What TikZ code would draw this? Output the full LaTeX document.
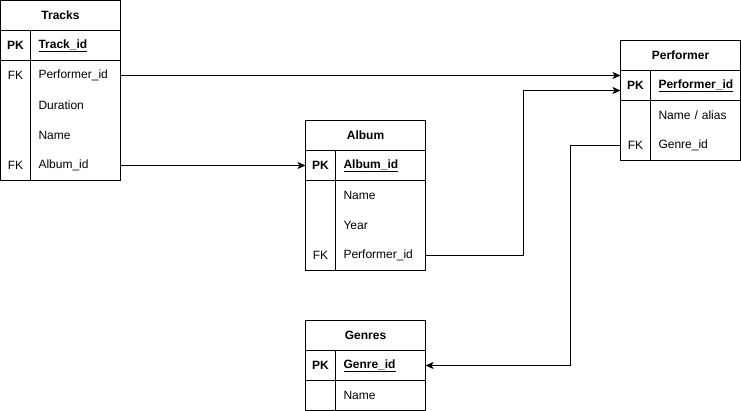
\documentclass[tikz,border=0pt]{standalone}
\usepackage{fontspec}
\setmainfont{Liberation Sans}
\usetikzlibrary{positioning,arrows.meta,calc}

\begin{document}
\begin{tikzpicture}[
    x=1pt, y=-1pt,
    node distance=0pt,
    every node/.style={font=\fontsize{12}{14}\selectfont, inner sep=0pt, outer sep=0pt},
    tblhead/.style={rectangle, draw, line width=1pt, minimum width=120pt, minimum height=30pt, font=\fontsize{12}{14}\selectfont\bfseries},
    keycell/.style={rectangle, minimum width=30pt, minimum height=30pt},
    pkkey/.style={keycell, font=\fontsize{12}{14}\selectfont\bfseries},
    fieldcell/.style={rectangle, minimum width=90pt, minimum height=30pt, inner xsep=8pt, text width=74pt, align=left},
    pkfield/.style={fieldcell, font=\fontsize{12}{14}\selectfont\bfseries},
    tblline/.style={line width=1pt},
    fk/.style={-{Stealth[length=8pt,width=7pt,inset=2pt]}, line width=1pt}
]
\useasboundingbox (0,0) rectangle (741,411);

% Tracks
\node[tblhead, anchor=north west] (trkhead) at (0.5,0.5) {Tracks};
\node[pkkey, below right=of trkhead.south west] (trkpkk) {PK};
\node[pkfield, right=of trkpkk] (trkpkf) {\underline{Track\_id}};
\node[keycell, below=of trkpkk] (trkk1) {FK};
\node[fieldcell, right=of trkk1] (trkf1) {Performer\_id};
\node[keycell, below=of trkk1] (trkk2) {};
\node[fieldcell, right=of trkk2] (trkf2) {Duration};
\node[keycell, below=of trkk2] (trkk3) {};
\node[fieldcell, right=of trkk3] (trkf3) {Name};
\node[keycell, below=of trkk3] (trkk4) {FK};
\node[fieldcell, right=of trkk4] (trkf4) {Album\_id};
\draw[tblline] (trkpkk.north west) rectangle (trkpkf.south east);
\draw[tblline] (trkk1.north west) rectangle (trkf4.south east);
\draw[tblline] (trkpkk.north east) -- (trkk4.south east);

% Album
\node[tblhead, anchor=north west] (albhead) at (305.5,120.5) {Album};
\node[pkkey, below right=of albhead.south west] (albpkk) {PK};
\node[pkfield, right=of albpkk] (albpkf) {\underline{Album\_id}};
\node[keycell, below=of albpkk] (albk1) {};
\node[fieldcell, right=of albk1] (albf1) {Name};
\node[keycell, below=of albk1] (albk2) {};
\node[fieldcell, right=of albk2] (albf2) {Year};
\node[keycell, below=of albk2] (albk3) {FK};
\node[fieldcell, right=of albk3] (albf3) {Performer\_id};
\draw[tblline] (albpkk.north west) rectangle (albpkf.south east);
\draw[tblline] (albk1.north west) rectangle (albf3.south east);
\draw[tblline] (albpkk.north east) -- (albk3.south east);

% Performer
\node[tblhead, anchor=north west] (perfhead) at (620.5,40.5) {Performer};
\node[pkkey, below right=of perfhead.south west] (perfpkk) {PK};
\node[pkfield, right=of perfpkk] (perfpkf) {\underline{Performer\_id}};
\node[keycell, below=of perfpkk] (perfk1) {};
\node[fieldcell, right=of perfk1] (perff1) {Name / alias};
\node[keycell, below=of perfk1] (perfk2) {FK};
\node[fieldcell, right=of perfk2] (perff2) {Genre\_id};
\draw[tblline] (perfpkk.north west) rectangle (perfpkf.south east);
\draw[tblline] (perfk1.north west) rectangle (perff2.south east);
\draw[tblline] (perfpkk.north east) -- (perfk2.south east);

% Genres
\node[tblhead, anchor=north west] (genhead) at (305.5,320.5) {Genres};
\node[pkkey, below right=of genhead.south west] (genpkk) {PK};
\node[pkfield, right=of genpkk] (genpkf) {\underline{Genre\_id}};
\node[keycell, below=of genpkk] (genk1) {};
\node[fieldcell, right=of genk1] (genf1) {Name};
\draw[tblline] (genpkk.north west) rectangle (genpkf.south east);
\draw[tblline] (genk1.north west) rectangle (genf1.south east);
\draw[tblline] (genpkk.north east) -- (genk1.south east);

% relations
\coordinate (perfin) at ($(perfpkk.west)+(0,5)$);
\draw[fk] (trkf1.east) -- (trkf1.east -| perfpkk.west);
\draw[fk] (trkf4.east) -- (albpkk.west);
\draw[fk] (albf3.east) -- ++(98,0) |- (perfin);
\draw[fk] (perfk2.west) -- ++(-50,0) |- (genpkf.east);

\end{tikzpicture}
\end{document}
